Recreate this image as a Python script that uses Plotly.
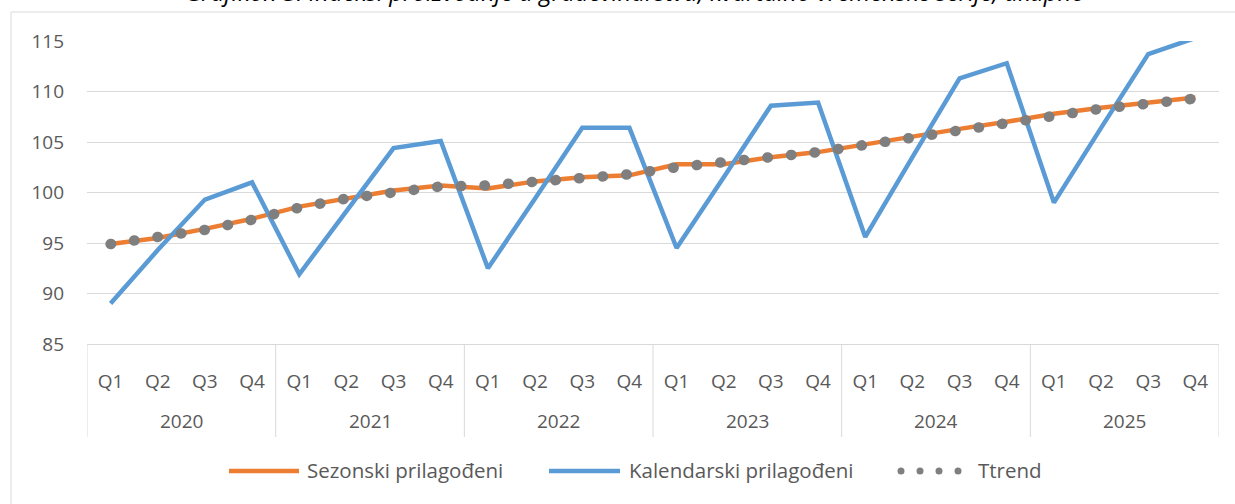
import plotly.graph_objects as go

# ---------------- data ----------------
years = ["2020", "2021", "2022", "2023", "2024", "2025"]
quarters = ["Q1", "Q2", "Q3", "Q4"]

sezonski = [94.9, 95.5, 96.4, 97.4, 98.6, 99.4, 100.2, 100.7,
            100.4, 101.1, 101.5, 101.7, 102.8, 102.8, 103.5, 104.0,
            104.8, 105.5, 106.3, 107.0, 107.8, 108.4, 108.9, 109.4]
kalendarski = [89.0, 94.3, 99.3, 101.0, 91.9, 98.2, 104.4, 105.1,
               92.5, 99.4, 106.4, 106.4, 94.5, 101.5, 108.6, 108.9,
               95.6, 103.5, 111.3, 112.8, 99.0, 106.4, 113.7, 115.3]
trend = [94.9, 95.5, 96.3, 97.3, 98.5, 99.4, 100.1, 100.6,
         100.7, 101.1, 101.5, 101.8, 102.5, 102.9, 103.5, 104.0,
         104.7, 105.5, 106.3, 107.0, 107.7, 108.3, 108.8, 109.3]

series_names = ["Sezonski prilagođeni", "Kalendarski prilagođeni", "Ttrend"]
title_text = "Grafikon 3. Indeksi proizvodnje u građevinarstvu, kvartalno vremenske serije, ukupno"
y_range = [85, 115]
y_dtick = 5

# ---------------- styling ----------------
W, H = 1235, 504
ML, MR, MT, MB = 87, 16, 41, 160
PW, PH = W - ML - MR, H - MT - MB
FONT = "'Open Sans', Lato, sans-serif"
FS = 19
GREY_TXT = "#595959"
GRID = "#D9D9D9"
ORANGE = "#ED7D31"
BLUE = "#5B9BD5"
TGREY = "#7F7F7F"


def px_x(x):
    return (x - ML) / PW


def px_y(y):
    return (H - MB - y) / PH


# unique category keys (year + quarter), displayed as the quarter only
cat_keys = [f"{y} {q}" for y in years for q in quarters]
cat_text = [q for _ in years for q in quarters]

fig = go.Figure()
fig.add_trace(go.Scatter(x=cat_keys, y=sezonski, name=series_names[0], mode="lines",
                         line=dict(color=ORANGE, width=4.5), showlegend=False))
fig.add_trace(go.Scatter(x=cat_keys, y=kalendarski, name=series_names[1], mode="lines",
                         line=dict(color=BLUE, width=4.5), showlegend=False))
fig.add_trace(go.Scatter(x=cat_keys, y=trend, name=series_names[2], mode="lines",
                         line=dict(color=TGREY, width=10.5, dash="0.5px,23.2px"),
                         showlegend=False))

fig.update_layout(
    width=W, height=H,
    margin=dict(l=ML, r=MR, t=MT, b=MB, autoexpand=False),
    paper_bgcolor="white", plot_bgcolor="white",
    font=dict(family=FONT, size=FS, color=GREY_TXT),
)
fig.update_xaxes(
    type="category", categoryorder="array", categoryarray=cat_keys,
    tickmode="array", tickvals=cat_keys, ticktext=cat_text,
    showgrid=False, showline=True, linecolor=GRID, linewidth=1,
    ticks="outside", ticklen=20, tickcolor="rgba(0,0,0,0)",
    tickfont=dict(family=FONT, size=FS, color=GREY_TXT),
    range=[-0.5, len(cat_keys) - 0.5],
)
fig.update_yaxes(
    range=y_range, dtick=y_dtick, showgrid=True, gridcolor=GRID, gridwidth=1,
    zeroline=False, showline=False, ticks="", ticklabelstandoff=22,
    tickfont=dict(family=FONT, size=FS, color=GREY_TXT),
)

shapes = []
annotations = []
# chart border
shapes.append(dict(type="rect", xref="paper", yref="paper",
                   x0=px_x(11), x1=px_x(1260), y0=px_y(12), y1=px_y(530),
                   line=dict(color=GRID, width=1), fillcolor="rgba(0,0,0,0)", layer="below"))
# year group dividers and year labels (category axis scale)
nq = len(quarters)
for i in range(len(years) + 1):
    xb = i * nq - 0.5
    shapes.append(dict(type="line", xref="x", yref="paper", x0=xb, x1=xb,
                       y0=0, y1=px_y(437), line=dict(color=GRID, width=1)))
for i, yr in enumerate(years):
    annotations.append(dict(text=yr, xref="x", yref="paper", x=i * nq + (nq - 1) / 2,
                            y=px_y(421), xanchor="center", yanchor="middle", showarrow=False,
                            font=dict(family=FONT, size=FS, color=GREY_TXT)))
# title (cut off at top, as in the reference)
annotations.append(dict(text=title_text, xref="paper", yref="paper",
                        x=px_x(635), y=px_y(4), xanchor="center", yanchor="bottom",
                        yshift=-6, showarrow=False,
                        font=dict(family=FONT, size=24, color="#000000", style="italic")))
# custom legend
ly = 471
shapes.append(dict(type="line", xref="paper", yref="paper", x0=px_x(229), x1=px_x(299),
                   y0=px_y(ly), y1=px_y(ly), line=dict(color=ORANGE, width=4.5)))
shapes.append(dict(type="line", xref="paper", yref="paper", x0=px_x(549), x1=px_x(620),
                   y0=px_y(ly), y1=px_y(ly), line=dict(color=BLUE, width=4.5)))
for cx in [901, 920, 939, 958]:
    shapes.append(dict(type="circle", xref="paper", yref="paper",
                       x0=px_x(cx - 3.5), x1=px_x(cx + 3.5), y0=px_y(ly - 3.5), y1=px_y(ly + 3.5),
                       line=dict(width=0), fillcolor=TGREY))
for name, tx in zip(series_names, [305, 627, 976]):
    annotations.append(dict(text=name, xref="paper", yref="paper", x=px_x(tx), y=px_y(470),
                            xanchor="left", yanchor="middle", showarrow=False,
                            font=dict(family=FONT, size=20.5, color=GREY_TXT)))

fig.update_layout(shapes=shapes, annotations=annotations)

post = """
document.documentElement.style.overflow = 'hidden';
document.body.style.margin = '0';
document.body.style.overflow = 'hidden';
var gd = document.getElementById('{plot_id}');
function fixCaps(){
  var tr = gd.querySelectorAll('.scatterlayer .trace');
  if (tr.length > 2) {
    tr[2].querySelectorAll('path.js-line').forEach(function(p){ p.style.strokeLinecap = 'round'; });
  }
}
fixCaps();
if (gd.on) { gd.on('plotly_afterplot', fixCaps); }
"""
fig.write_html("out.html", post_script=post, config={"displayModeBar": False})
